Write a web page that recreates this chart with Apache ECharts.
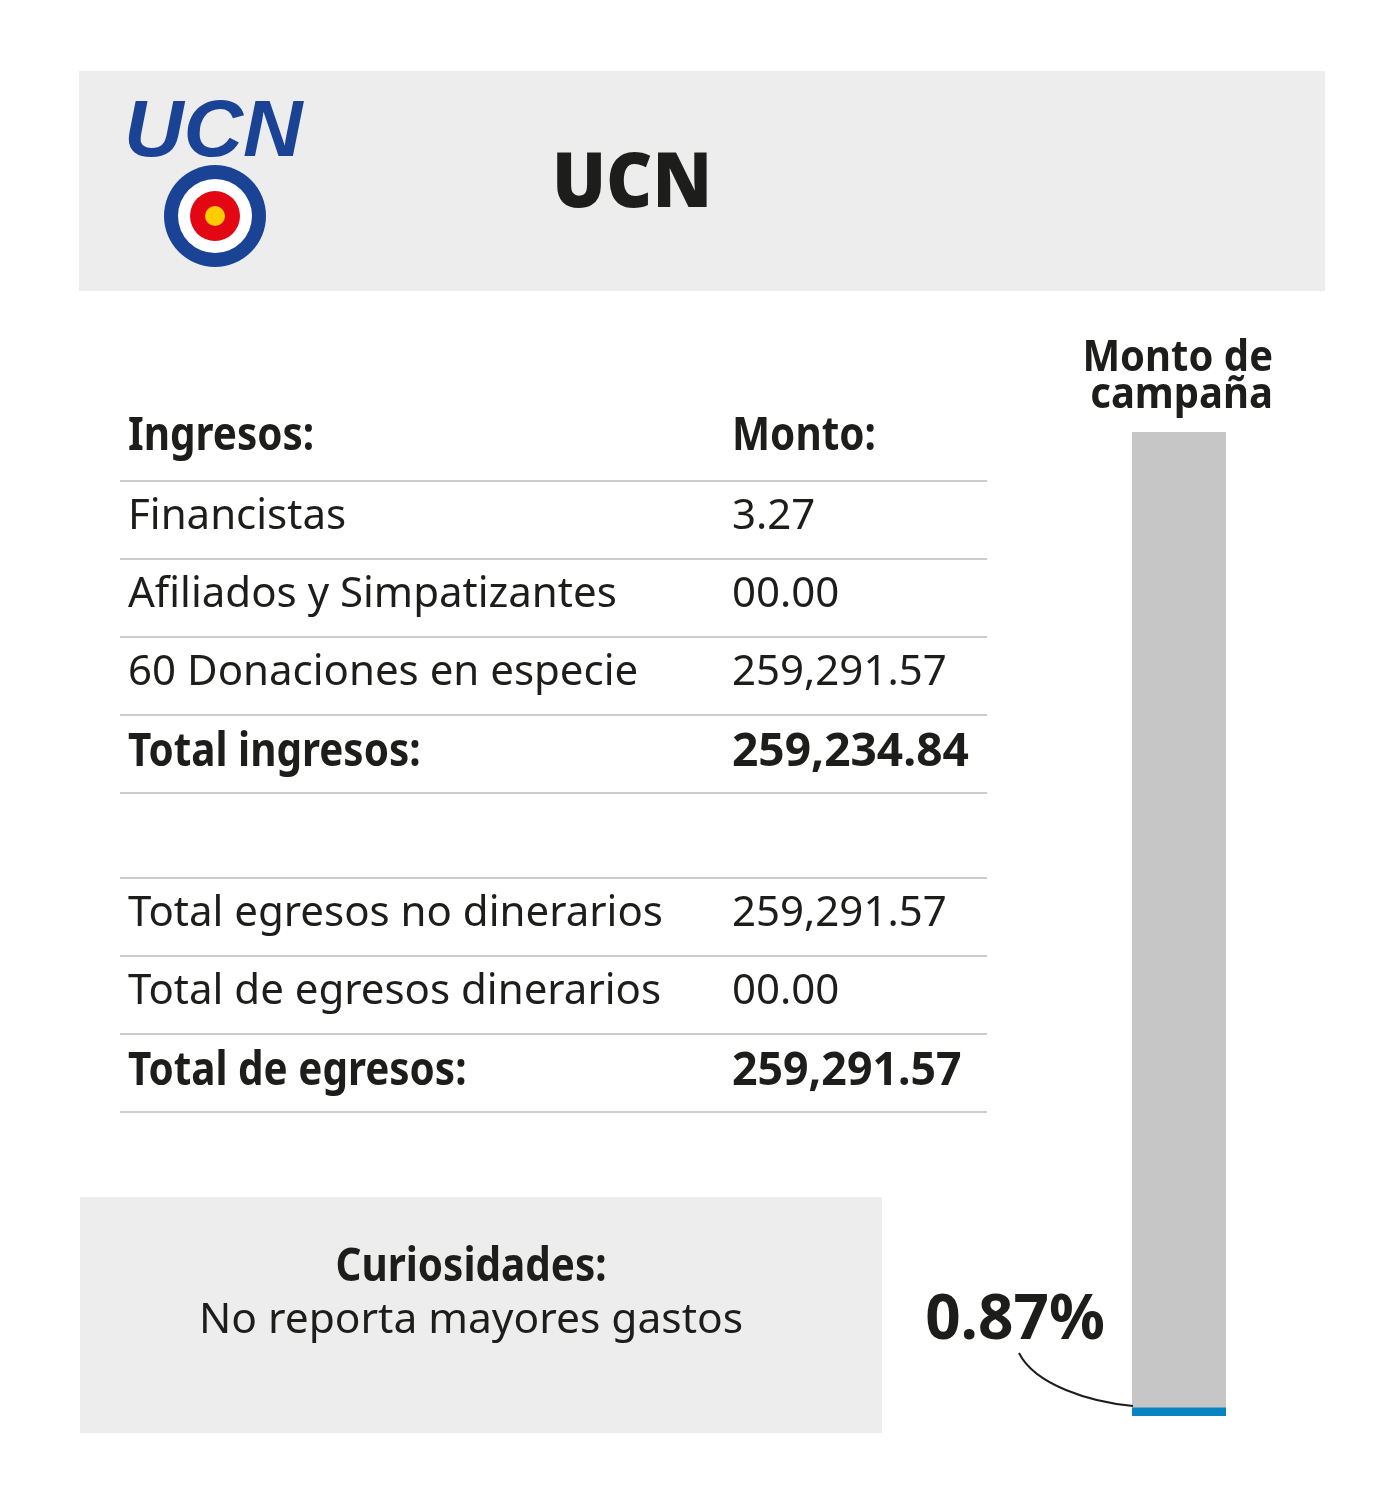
<!DOCTYPE html>
<html>
<head>
<meta charset="utf-8">
<script src="https://cdn.jsdelivr.net/npm/echarts@6/dist/echarts.min.js"></script>
<style>
html,body{margin:0;padding:0;background:#fff;}
#main{width:1374px;height:1490px;}
</style>
</head>
<body>
<div id="main"></div>
<script>
// ---- data ----
var partyName = 'UCN';
var ingresosLabels = ['Financistas', 'Afiliados y Simpatizantes', '60 Donaciones en especie'];
var ingresosValues = ['3.27', '00.00', '259,291.57'];
var totalIngresosLabel = 'Total ingresos:';
var totalIngresosValue = '259,234.84';
var egresosLabels = ['Total egresos no dinerarios', 'Total de egresos dinerarios'];
var egresosValues = ['259,291.57', '00.00'];
var totalEgresosLabel = 'Total de egresos:';
var totalEgresosValue = '259,291.57';
var curiosidadesTitle = 'Curiosidades:';
var curiosidadesText = 'No reporta mayores gastos';
var barCategories = ['Monto de campaña'];
var barShare = [0.87];      // percent of campaign amount
var barTotal = [100];       // full scale
var shareLabel = '0.87%';

// ---- chart ----
var chart = echarts.init(document.getElementById('main'), null, {renderer: 'canvas'});
var FONT = 'Noto Sans';
var TXT = '#1d1d1b';
var LINE = '#cccccc';
var g = [];

function txt(x, y, s, font, align, sx) {
  g.push({type:'text', x:x, y:y, scaleX:sx || 1,
    style:{text:s, font:font, fill:TXT, textAlign:align || 'left', textVerticalAlign:'middle'}, z:2});
}

// header box
g.push({type:'rect', shape:{x:79, y:71, width:1246, height:220}, style:{fill:'#ededed'}, z:0});
// logo
g.push({type:'text', x:124, y:134, scaleX:1.03, style:{text:partyName, font:'italic bold 80px "Liberation Sans"', fill:'#1a4396', textVerticalAlign:'middle'}, z:2});
g.push({type:'circle', shape:{cx:215, cy:216, r:51}, style:{fill:'#1a4396'}, z:2});
g.push({type:'circle', shape:{cx:215, cy:216, r:37}, style:{fill:'#ffffff'}, z:3});
g.push({type:'circle', shape:{cx:215, cy:216, r:25}, style:{fill:'#e30613'}, z:4});
g.push({type:'circle', shape:{cx:215, cy:216, r:10}, style:{fill:'#ffcc00'}, z:5});
// title
txt(632, 185, partyName, '900 76px "' + FONT + '"', 'center', 0.94);

// table
var xL = 128, xV = 732, lineX1 = 120, lineX2 = 987;
var REG = '42px "' + FONT + '"';
var BOLD = 'bold 47px "' + FONT + '"';
function hline(y){ g.push({type:'line', shape:{x1:lineX1, y1:y, x2:lineX2, y2:y}, style:{stroke:LINE, lineWidth:2}, z:1}); }
function row(y, a, b){ txt(xL, y, a, REG); txt(xV, y, b, REG); }
function boldRow(y, a, b, valScale){ txt(xL, y, a, BOLD, 'left', 0.86); txt(xV, y, b, BOLD, 'left', valScale); }

boldRow(437, 'Ingresos:', 'Monto:', 0.86);
hline(481);
var y = 481;
for (var i = 0; i < ingresosLabels.length; i++) {
  row(y + 36, ingresosLabels[i], ingresosValues[i]);
  y += 78; hline(y);
}
boldRow(y + 38, totalIngresosLabel, totalIngresosValue, 0.98);
y += 78; hline(y);
y = 878; hline(y);
for (var j = 0; j < egresosLabels.length; j++) {
  row(y + 36, egresosLabels[j], egresosValues[j]);
  y += 78; hline(y);
}
boldRow(y + 38, totalEgresosLabel, totalEgresosValue, 0.95);
y += 78; hline(y);

// curiosidades
g.push({type:'rect', shape:{x:80, y:1197, width:802, height:236}, style:{fill:'#ededed'}, z:0});
txt(471, 1268, curiosidadesTitle, BOLD, 'center', 0.86);
txt(471, 1321, curiosidadesText, '42.5px "' + FONT + '"', 'center');

// bar title
txt(1273, 359, 'Monto de', 'bold 43px "' + FONT + '"', 'right', 0.93);
txt(1273, 396, 'campaña', 'bold 43px "' + FONT + '"', 'right', 0.93);

// share label + curve
txt(1015, 1321, shareLabel, 'bold 62px "' + FONT + '"', 'center');
g.push({type:'bezierCurve', shape:{x1:1019, y1:1353, cpx1:1035, cpy1:1385, cpx2:1090, cpy2:1402, x2:1133, y2:1406}, style:{stroke:'#1d1d1b', lineWidth:2, fill:null}, z:6});

chart.setOption({
  animation:false,
  backgroundColor:'#ffffff',
  grid:{left:1132, top:432, width:94, height:984, containLabel:false},
  xAxis:{type:'category', data:barCategories, show:false},
  yAxis:{type:'value', min:0, max:100, show:false},
  series:[
    {type:'bar', data:barTotal, barWidth:'100%', barGap:'-100%', itemStyle:{color:'#c6c6c6'}, z:2},
    {type:'bar', data:barShare, barWidth:'100%', barGap:'-100%', itemStyle:{color:'#0a84c1'}, z:3}
  ],
  graphic:g
});
</script>
</body>
</html>
